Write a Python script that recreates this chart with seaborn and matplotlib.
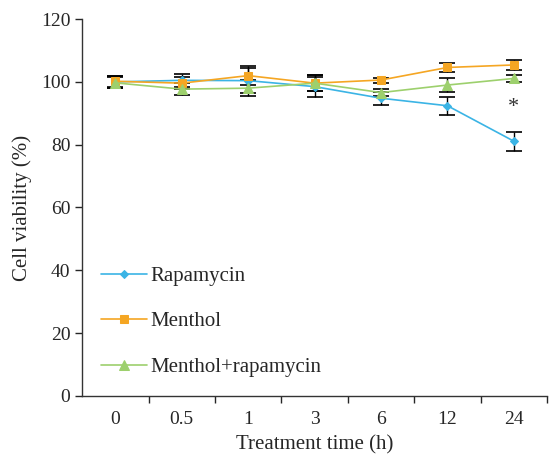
"""Cell viability over treatment time, three treatments with error bars"""
import matplotlib
matplotlib.use('Agg')
import matplotlib.pyplot as plt
import numpy as np
import pandas as pd
import seaborn as sns

# ~~~~~~~  Data  ~~~~~~~ #
times = ['0', '0.5', '1', '3', '6', '12', '24']
series_names = ['Rapamycin', 'Menthol', 'Menthol+rapamycin']
rapamycin = [100.0, 100.5, 100.4, 98.5, 94.8, 92.4, 81.1]
rapamycin_err = [2.0, 2.0, 4.0, 3.2, 2.0, 2.9, 3.1]
menthol = [100.2, 99.6, 102.0, 99.6, 100.6, 104.6, 105.4]
menthol_err = [1.7, 2.0, 3.0, 2.6, 0.8, 1.3, 1.6]
combo = [99.7, 97.7, 98.0, 99.6, 96.6, 99.0, 101.1]
combo_err = [1.8, 1.8, 2.5, 2.5, 1.2, 2.2, 1.0]
star_time = '24'
star_y = 92.0

colors = ['#3bb4e5', '#f5a623', '#9dd06d']
markers = ['D', 's', '^']
marker_sizes = [4.5, 6, 6.5]

df = pd.DataFrame({
    'time': times * 3,
    'viability': rapamycin + menthol + combo,
    'err': rapamycin_err + menthol_err + combo_err,
    'group': np.repeat(series_names, len(times)),
})

# ~~~~~~~  Plot  ~~~~~~~ #
sns.set_style('ticks')
plt.rcParams['font.family'] = ['Liberation Serif', 'DejaVu Serif']

fig = plt.figure(figsize=(5.51, 4.55), dpi=100)
ax = fig.add_axes([0.149, 0.130, 0.844, 0.828])

# black error bars underneath the markers
for name in series_names:
    sub = df[df['group'] == name]
    ax.errorbar(np.arange(len(times)), sub['viability'], yerr=sub['err'],
                fmt='none', ecolor='black', elinewidth=1.0, capsize=5.5,
                capthick=1.2, zorder=2)

for name, col, mk, ms in zip(series_names, colors, markers, marker_sizes):
    sub = df[df['group'] == name]
    sns.lineplot(data=sub, x='time', y='viability', color=col, marker=mk,
                 markersize=ms, markeredgecolor=col, linewidth=1.2,
                 label=name, ax=ax, zorder=3)

ax.text(times.index(star_time), star_y, '*', ha='center', va='center',
        fontsize=16, color='#333333')

ax.set_xlim(-0.5, 6.5)
ax.set_ylim(0, 120)
ax.set_yticks(range(0, 121, 20))
ax.set_xticks(range(len(times)))
ax.set_xticklabels(times)
ax.set_xticks(np.arange(0.5, 6.6, 1), minor=True)
ax.tick_params(axis='x', which='major', length=0, pad=11, labelsize=14)
ax.tick_params(axis='x', which='minor', length=5, width=1)
ax.tick_params(axis='y', length=5, width=1, labelsize=14)
for s in ['top', 'right']:
    ax.spines[s].set_visible(False)
for s in ['left', 'bottom']:
    ax.spines[s].set_linewidth(1)
    ax.spines[s].set_color('#333333')

ax.set_xlabel('Treatment time (h)', fontsize=15, labelpad=5)
ax.set_ylabel('Cell viability (%)', fontsize=15, labelpad=6)

ax.legend(loc='lower left', bbox_to_anchor=(0.0, 0.0), frameon=False,
          fontsize=15, handlelength=2.2, labelspacing=1.25, handletextpad=0.2)

fig.savefig('out.png', dpi=100)
